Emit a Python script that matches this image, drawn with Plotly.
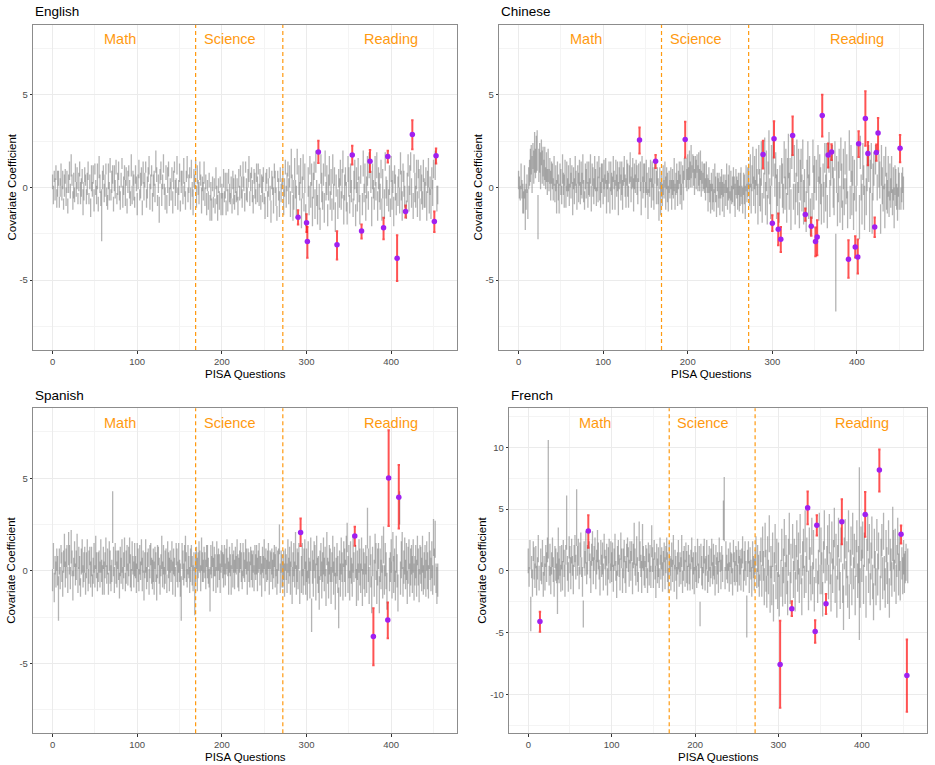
import plotly.graph_objects as go

W, H = 935, 765

# ---------------- DATA (values in tenths) ----------------
# English: gray intervals, centre and half-width, questions 0..455
eng_c = [
3,-4,6,-1,8,-6,2,5,-8,0,7,-3,4,-9,1,6,-5,3,-10,2,
9,-2,12,4,-7,1,-4,8,-1,5,-6,3,10,-3,0,6,-8,-2,7,4,
-5,2,9,-6,3,-11,5,-1,7,-7,10,0,-4,6,-9,11,2,-6,-15,4,
8,-3,1,10,-5,-8,6,-2,12,-4,3,7,-9,5,-1,11,-6,2,9,-3,
-7,4,13,-5,1,8,-3,6,-10,3,9,-1,-6,12,-4,5,0,-8,7,2,
-9,3,10,-4,1,6,-11,8,-2,4,11,-6,0,7,12,-5,3,9,-8,1,
5,-3,14,7,-7,2,-12,6,9,-4,3,13,-1,-6,8,-9,4,10,-5,2,
-2,7,-8,4,11,-3,1,12,-6,0,8,-10,3,5,-4,9,-1,-7,6,11,
-4,2,8,-6,10,-1,-8,5,3,12,-5,7,0,-3,9,4,-7,2,-2,8,
-5,3,-9,1,-7,4,-11,-2,-12,2,-8,0,-10,5,-4,-11,1,-7,3,-9,
-2,-9,5,-5,1,-11,3,-7,6,-3,-6,0,-10,4,-2,-8,2,-5,-1,-10,
5,-3,9,0,-6,7,2,-8,11,-1,-4,5,10,-6,3,8,-2,-9,6,1,
-5,8,-1,10,-4,5,-8,2,-1,7,-6,-11,3,6,-9,0,8,-3,-13,4,
1,-7,9,3,-5,-14,6,-1,-9,7,-3,2,5,-8,0,11,-5,3,10,-2,
6,-9,13,2,-11,-4,10,-1,-7,14,-12,4,-2,9,-14,0,11,-8,5,-15,
-10,-15,3,-7,12,-4,7,-13,1,9,-9,14,-3,-12,5,-5,-17,10,0,-7,
7,-11,13,-2,4,-15,0,9,-7,3,-12,10,-5,6,-16,1,12,-9,5,-3,
8,-7,2,14,-12,0,6,-5,-14,10,3,-9,5,-2,12,-11,1,7,-15,4,
-5,10,-1,-12,7,2,-9,13,-3,5,-11,0,9,-7,12,-4,3,-13,6,-1,
-6,9,-2,12,-10,5,0,-5,10,-12,2,7,-9,14,0,-3,8,-7,4,-11,
10,-4,3,-13,7,0,-9,12,-2,5,-7,13,1,-10,8,2,-5,6,-12,0,
12,-6,4,14,-3,8,-10,13,0,-5,7,-9,10,2,-12,5,-1,-7,9,-3,
-4,6,-10,3,8,-7,1,-9,5,-3,10,-11,12,1,-6,-4]
eng_w = [
4,5,3,6,4,5,7,4,3,5,6,4,5,3,6,4,5,6,4,5,
5,4,6,3,5,7,4,5,4,6,3,5,4,6,5,4,7,5,4,3,
4,6,5,3,4,5,7,4,5,6,3,4,5,7,4,6,5,4,14,5,
4,5,6,3,5,4,7,5,4,3,6,5,4,7,5,4,3,6,5,4,
5,4,3,6,5,4,7,5,4,6,3,5,4,6,5,4,7,3,5,4,
6,4,5,3,7,5,4,6,5,4,3,5,6,4,5,7,4,3,5,6,
4,5,6,4,3,5,7,4,5,6,4,5,3,6,4,5,7,4,5,3,
5,4,6,5,3,7,4,5,6,4,5,3,6,4,5,7,4,5,3,6,
4,5,3,6,5,4,7,5,4,3,6,5,4,6,5,3,7,4,5,6,
5,4,6,3,5,4,7,5,6,4,3,5,4,6,5,7,4,5,3,6,
4,6,5,3,7,4,5,6,4,5,3,6,4,5,7,4,5,3,6,5,
5,4,3,6,5,7,4,5,3,6,4,5,7,4,5,3,6,5,4,7,
4,5,7,3,6,5,4,5,7,4,3,6,5,4,7,5,3,4,6,5,
5,7,4,6,5,4,3,6,7,4,5,3,6,7,5,4,6,5,4,7,
6,7,8,5,7,8,6,5,8,7,6,8,5,7,8,6,7,5,8,6,
7,6,8,8,5,7,6,8,7,5,8,6,7,8,5,7,6,8,8,5,
6,8,7,5,8,6,7,8,5,7,6,8,7,5,8,6,7,8,5,8,
7,5,8,6,8,7,5,8,6,7,8,5,8,6,7,5,8,8,6,7,
8,6,7,8,5,8,6,7,5,8,7,6,8,5,7,8,6,8,7,5,
6,8,5,7,8,6,8,7,5,6,8,7,8,5,6,7,8,6,8,5,
7,8,6,8,5,7,6,8,8,5,7,6,8,8,5,7,6,8,5,8,
6,7,8,5,8,6,7,5,8,6,8,7,5,8,6,7,8,5,6,8,
7,5,8,6,8,7,5,8,6,7,5,8,8,6,7,5]
# English significant questions: question, estimate, lower, upper
eng_hq = [290, 300, 301, 314, 336, 354, 365, 375, 391, 396, 407, 417, 425, 451, 453]
eng_he = [-1.61, -1.91, -2.92, 1.92, -3.10, 1.75, -2.35, 1.42, -2.18, 1.67, -3.82, -1.30, 2.86, -1.84, 1.71]
eng_hl = [-2.00, -2.40, -3.80, 1.33, -3.89, 1.24, -2.76, 0.84, -2.79, 1.35, -5.05, -1.62, 2.07, -2.40, 1.30]
eng_hh = [-1.23, -1.44, -2.13, 2.52, -2.36, 2.25, -2.00, 2.02, -1.64, 1.98, -2.58, -0.97, 3.64, -1.30, 2.11]

# Chinese
chi_c = [
4,0,-3,6,-1,-6,-8,3,-12,-5,2,-9,5,8,12,15,7,17,11,19,
13,18,20,-16,12,16,9,19,11,14,8,13,5,11,3,12,4,9,1,8,
6,-1,9,-3,5,-5,8,0,-6,7,3,-4,10,2,-2,8,-5,6,0,5,
-4,8,1,7,-6,5,-2,9,3,-5,7,0,8,-3,5,1,10,-2,-7,6,
2,8,-4,5,0,10,-6,7,3,-2,8,4,-5,6,-1,11,2,-4,5,8,
-2,7,1,9,-5,4,0,8,-7,6,2,-3,10,4,-4,8,1,6,-6,5,
8,0,5,-4,6,10,1,-3,8,4,-5,7,11,-1,5,8,-4,6,2,9,
4,-2,8,1,6,-6,10,0,5,8,-4,6,2,-9,4,0,9,-3,7,2,
-5,8,4,0,6,-2,-10,5,-6,2,-4,4,-1,7,-3,5,0,-6,3,-1,
5,-4,3,-1,7,-5,2,5,-3,4,8,-1,5,-5,7,1,10,3,8,4,
11,5,12,7,14,6,13,9,3,11,7,13,5,10,4,12,2,8,3,6,
5,-1,7,2,-4,4,-2,-6,3,-5,1,-7,5,-1,-10,3,-3,1,-6,0,
3,-5,1,-7,2,-3,5,-6,0,3,-8,1,-4,-1,5,-2,-7,3,0,-4,
2,-6,-1,3,-4,-7,2,-1,-8,5,-3,3,6,-4,9,-6,5,12,-2,8,
-5,11,3,-9,15,0,-4,13,-11,6,1,17,-6,9,-12,4,19,-2,-8,12,
-3,16,-9,4,12,-5,0,18,-8,3,-13,9,1,-6,15,-3,10,-11,6,17,
-2,8,-12,19,3,-5,13,-9,0,16,-6,9,-15,4,12,-3,18,-8,1,11,
-13,6,15,-5,9,-16,3,-10,17,0,7,-12,4,-17,13,-6,10,1,-9,20,
4,-8,16,-3,12,-13,1,19,-6,9,-11,14,0,-5,17,-46,7,-12,3,13,
-9,18,1,-15,10,-5,16,-2,6,-12,3,20,-8,13,-3,9,-13,4,17,-6,
12,-3,7,-16,19,0,-9,14,4,-11,18,-5,9,-2,13,-12,6,17,-14,3,
10,-8,15,-3,0,-13,9,4,-17,12,1,-6,8,-10,14,-2,-5,6,-9,3,
-3,7,-8,2,-11,4,0,-5,-9,3,-2,6,-6,0,4,-3]
chi_w = [
5,6,4,7,5,8,6,9,11,7,5,8,6,7,9,8,10,7,9,11,
8,10,11,12,9,8,10,7,9,8,7,9,6,8,7,9,6,7,8,6,
7,6,8,5,7,9,6,7,8,6,7,5,8,6,9,7,6,8,5,7,
6,8,7,5,9,6,7,8,6,7,5,8,7,6,9,7,8,6,5,7,
8,6,7,9,5,8,7,6,8,7,9,6,5,8,7,6,9,7,8,5,
7,8,6,7,9,5,8,6,7,8,6,9,7,5,8,7,6,8,9,6,
6,7,9,8,5,7,6,8,7,9,6,5,8,7,6,8,9,7,5,6,
8,7,5,6,8,9,7,6,8,5,7,9,6,8,7,5,6,8,7,9,
7,6,8,9,5,7,8,6,9,7,6,8,5,7,9,6,8,7,6,5,
6,8,7,5,9,7,6,8,7,5,6,8,9,7,5,8,6,7,8,6,
7,6,8,7,9,6,5,8,7,6,8,5,7,9,6,8,7,6,5,7,
8,6,7,5,9,7,6,8,5,7,9,6,8,7,6,5,8,7,9,6,
7,8,6,9,5,7,8,6,7,9,6,8,5,7,6,8,9,7,6,8,
6,7,9,8,5,7,6,8,9,7,5,8,7,6,9,8,7,10,8,9,
9,10,7,11,8,10,9,12,8,11,7,10,9,11,8,10,12,7,9,11,
8,10,11,9,7,12,10,8,11,9,10,7,12,8,10,9,11,8,10,12,
10,8,11,9,12,7,10,11,8,10,9,12,7,11,9,10,8,12,9,10,
11,9,10,12,8,10,11,7,9,12,10,8,11,9,10,12,8,10,11,9,
9,11,8,10,12,9,7,11,10,8,12,9,11,10,8,21,10,9,11,8,
10,9,12,8,11,10,9,7,12,10,8,11,9,10,12,8,10,11,9,7,
11,8,10,12,9,7,11,10,8,12,9,10,11,8,10,12,9,7,11,10,
9,10,8,11,7,12,9,10,8,11,10,7,9,12,8,10,9,11,7,10,
8,10,7,9,11,8,10,7,9,8,10,7,6,8,7,9]
chi_hq = [143, 162, 197, 289, 300, 302, 307, 310, 324, 339, 346, 351, 353, 359, 366, 370,
          390, 398, 401, 402, 410, 413, 421, 423, 425, 451]
chi_he = [2.56, 1.42, 2.59, 1.78, -1.93, 2.63, -2.25, -2.79, 2.81, -1.46, -2.09, -2.92, -2.67, 3.89, 1.76, 1.92,
          -3.87, -3.21, -3.75, 2.36, 3.73, 1.84, -2.13, 1.89, 2.94, 2.12]
chi_hl = [1.84, 1.06, 1.62, 1.03, -2.35, 1.62, -3.12, -3.48, 1.75, -1.80, -2.61, -3.71, -3.66, 2.76, 1.08, 1.48,
          -4.88, -3.78, -4.65, 1.65, 2.25, 1.20, -2.67, 1.44, 1.98, 1.37]
chi_hh = [3.24, 1.75, 3.55, 2.52, -1.50, 3.58, -1.41, -2.13, 3.84, -1.14, -1.62, -2.16, -1.77, 5.01, 2.38, 2.34,
          -2.85, -2.63, -2.81, 3.04, 5.20, 2.46, -1.62, 2.32, 3.75, 2.83]

# Spanish
spa_c = [
-5,8,-9,3,-2,6,0,-15,5,-4,9,2,-7,5,11,-2,4,8,-5,12,
6,-4,13,4,-8,2,9,-2,3,11,-5,7,0,-9,5,8,-3,2,6,-7,
3,9,-5,2,8,-2,5,-8,0,7,-3,10,3,-6,2,5,-2,8,0,-5,
7,-4,3,10,-2,5,-7,8,2,-4,0,29,5,-5,9,2,-2,6,3,-8,
5,0,8,-4,3,10,-6,2,7,-2,5,11,0,-5,8,3,-2,6,2,-4,
8,3,-5,6,0,10,-2,5,-8,3,8,-4,2,7,-6,5,9,0,-2,3,
-4,7,2,-9,5,8,0,-5,3,10,-2,6,-4,2,5,-7,8,3,-2,5,
0,8,-4,5,2,-6,9,3,-2,7,0,-5,-15,8,3,-2,5,12,2,-4,
6,2,-5,3,8,0,-4,5,-11,2,7,-2,3,8,5,-4,9,2,0,6,
3,-2,8,5,0,-4,-10,6,2,9,-2,5,3,-5,8,0,6,2,-4,5,
8,3,0,6,-2,5,9,2,-4,6,3,-5,8,0,5,-2,6,3,9,0,
-2,5,8,2,-5,6,3,0,9,5,-4,6,2,-2,8,3,0,5,-4,6,
2,6,-2,5,8,0,3,-5,6,2,9,-2,5,0,3,8,-4,6,2,5,
-2,3,8,0,5,-6,2,6,17,-4,5,0,-2,3,-5,6,2,-4,8,0,
5,-4,9,-8,2,6,-2,11,-5,3,0,8,-9,5,-2,6,-6,2,9,-4,
3,-8,6,0,-5,9,-24,2,-4,8,5,-6,11,0,-2,-12,3,6,-5,2,
8,-2,5,-9,12,0,-5,6,3,-8,2,9,-4,5,-11,0,6,-2,-20,3,
-5,8,2,-6,9,3,-4,11,18,-2,5,-8,6,0,-5,9,2,-4,5,-9,
3,-6,8,2,-4,9,-9,5,0,-5,6,-2,23,3,-8,11,0,-13,5,8,
-4,12,5,-9,2,8,-13,3,-2,9,-6,14,-5,6,0,-11,5,-3,-2,2,
8,-5,13,-2,3,-8,9,0,-12,5,34,-4,6,11,-6,2,8,-2,5,-9,
3,9,-5,2,6,-2,8,-6,0,5,-4,11,2,-8,6,3,-2,9,-5,0,
5,-4,8,0,-6,11,3,-2,6,-5,18,2,17,-4,-8,-5]
spa_w = [
6,7,8,5,7,6,8,12,7,6,5,8,7,6,9,7,8,6,7,9,
8,6,9,7,8,5,7,6,8,9,7,6,8,5,7,9,6,8,7,6,
7,8,6,9,5,7,8,6,7,8,6,9,7,5,8,6,7,9,6,8,
6,9,7,8,5,7,6,8,9,7,6,14,8,7,6,9,7,5,8,7,
8,7,9,6,7,8,5,9,7,6,8,7,9,6,8,5,7,9,6,8,
7,9,6,8,5,7,9,6,8,7,9,6,8,5,7,9,6,7,8,9,
9,6,8,7,9,5,7,8,6,9,7,8,6,9,7,5,8,7,9,6,
6,8,9,7,5,8,6,9,7,8,6,9,12,7,8,6,9,7,8,5,
8,6,7,9,6,8,7,5,13,8,6,9,7,8,6,7,9,8,6,7,
7,8,6,9,7,5,12,8,6,7,9,8,6,7,8,9,6,7,8,6,
6,7,9,8,6,7,8,5,9,7,6,8,7,9,6,8,7,5,8,9,
9,6,7,8,5,9,7,6,8,7,9,6,8,7,5,8,9,6,7,8,
7,8,9,6,7,8,5,9,7,6,8,9,7,6,8,7,9,5,8,7,
8,7,6,9,8,7,9,6,8,8,6,9,7,8,9,6,7,8,9,7,
8,9,7,10,8,9,7,10,8,9,10,7,9,8,10,9,7,10,8,9,
9,8,10,7,10,9,9,9,10,8,9,10,8,7,10,9,8,9,10,8,
10,9,8,10,9,7,10,8,9,10,8,10,9,8,10,7,9,10,11,8,
9,10,8,10,7,9,10,8,8,10,9,8,10,7,9,10,8,10,9,10,
8,10,9,10,8,9,10,7,10,9,8,10,11,9,10,8,9,10,8,10,
10,8,10,9,10,7,10,9,8,10,9,10,8,9,10,10,8,11,9,8,
9,10,8,10,9,8,10,9,10,8,9,9,10,10,8,9,10,8,10,9,
10,8,9,10,8,10,9,10,8,9,10,8,10,9,8,10,9,10,8,10,
9,10,8,10,9,10,8,9,10,8,10,10,10,8,10,9]
spa_hq = [293, 357, 379, 396, 397, 409]
spa_he = [2.07, 1.88, -3.55, -2.66, 5.01, 3.98]
spa_hl = [1.34, 1.35, -5.10, -3.64, 2.42, 2.29]
spa_hh = [2.83, 2.38, -2.03, -1.71, 7.60, 5.71]

# French
fre_c = [
8,-5,13,-35,3,-10,16,6,-4,11,-8,2,18,-6,0,5,-2,14,-11,4,
-5,12,3,17,58,-4,9,-8,6,15,1,-10,11,5,-2,-10,14,0,8,-6,
11,-4,16,6,-8,13,39,2,-5,19,9,-2,16,4,-7,12,18,3,43,8,
15,-6,10,21,3,-9,-35,13,6,19,-2,9,0,16,4,-5,13,20,0,10,
18,-3,7,20,12,1,-8,15,4,10,-5,20,9,0,13,-9,6,16,-2,12,
3,13,-6,9,17,0,-11,8,15,4,-3,20,10,-8,6,16,1,-5,12,19,
9,-2,15,4,16,-6,12,22,7,-3,16,1,-9,24,13,4,-5,20,10,0,
-3,12,6,-8,15,1,10,-5,24,9,-2,17,4,-9,13,0,7,-6,16,3,
10,-5,6,15,-2,9,18,3,-8,12,4,-3,13,0,17,-6,9,2,-10,6,
13,-3,7,0,16,-9,4,10,-2,15,3,-6,12,1,-5,9,17,-2,6,-8,
10,3,-5,15,-2,7,-35,12,0,-6,9,16,-3,4,13,-9,2,10,-5,6,
15,-2,9,3,-8,13,0,6,-5,17,7,-3,10,2,41,50,-6,12,3,-2,
9,-5,13,2,6,-9,16,3,-2,12,4,-6,15,0,7,-3,10,17,-8,4,
12,-2,-37,6,15,-5,9,1,-9,13,3,-3,7,16,-6,10,0,-12,4,17,
-8,20,4,-13,25,0,-17,12,-5,30,-15,7,-12,17,-26,3,22,-9,13,-16,
9,-20,0,-6,21,-13,4,27,-10,16,-3,-22,11,30,-14,6,0,24,-7,13,
-17,7,26,-4,14,-12,30,1,-21,10,18,-9,32,-3,13,0,-16,22,4,-10,
28,-6,17,-19,6,0,25,-13,3,31,-7,20,-2,-23,11,33,0,-14,6,21,
-9,30,2,-18,23,-4,13,35,-11,17,-21,7,27,-3,-16,21,0,-10,-30,14,
26,-6,9,-17,32,-25,3,20,-13,30,-2,16,-20,10,28,-8,5,14,-14,22,
4,25,-11,17,0,-21,13,31,-4,22,-15,8,27,-9,-25,18,2,-13,29,-3,
16,0,-18,10,25,-6,32,-2,-14,20,4,-10,27,-22,13,3,-7,30,17,-4,
20,-11,8,28,-3,14,-8,0,6,-4,11,-2,3,7,0,4]
fre_w = [
10,8,12,14,9,11,8,13,10,9,12,9,11,10,9,13,9,11,10,8,
11,9,12,10,48,8,13,11,9,12,10,11,9,13,8,25,21,10,12,11,
10,12,9,11,13,8,22,10,12,9,11,13,10,8,12,9,11,10,23,12,
11,9,13,10,8,12,11,11,10,13,9,12,11,8,10,13,9,12,11,10,
9,12,10,13,11,8,12,10,9,13,11,10,8,12,9,11,13,10,8,12,
12,10,11,9,13,8,11,12,10,9,13,11,8,10,12,9,11,13,10,8,
10,11,9,12,8,13,10,17,11,9,12,10,8,16,11,9,13,18,10,12,
11,9,12,10,8,13,11,9,13,10,12,8,11,13,9,10,12,8,11,10,
9,12,10,8,13,11,9,12,10,11,8,13,10,9,12,11,8,10,13,9,
12,10,8,11,13,9,12,10,11,8,13,10,9,12,11,8,10,13,9,11,
10,12,9,11,8,13,10,10,12,9,11,10,13,8,12,9,11,10,8,12,
11,9,13,10,12,8,11,9,13,10,8,12,10,11,16,26,9,12,10,8,
9,12,10,13,8,11,9,12,10,8,13,11,9,12,10,13,8,11,9,12,
12,10,17,11,9,13,10,8,12,11,9,13,10,12,8,11,13,9,12,10,
13,16,12,15,14,17,13,16,14,15,19,13,16,14,15,12,16,14,13,15,
14,17,10,15,13,16,14,15,17,13,16,14,15,17,13,16,10,14,15,13,
16,14,15,13,17,14,16,12,15,14,16,13,17,15,14,10,16,13,15,14,
15,13,16,14,17,10,15,13,14,16,12,15,17,14,13,16,10,15,14,16,
14,16,13,15,17,14,12,16,15,13,17,14,16,13,15,14,10,16,18,13,
16,14,15,13,17,14,14,16,15,17,13,14,16,15,13,14,15,70,16,14,
13,15,16,14,10,17,13,15,14,16,13,15,17,14,15,16,14,15,13,17,
15,10,14,16,13,17,15,14,16,13,15,17,14,16,13,15,14,22,16,13,
14,16,13,15,17,14,16,10,13,15,14,16,13,15,10,14]
fre_hq = [14, 72, 302, 316, 335, 344, 346, 357, 376, 404, 421, 447, 454]
fre_he = [-4.10, 3.22, -7.59, -3.08, 5.10, -4.91, 3.70, -2.67, 3.97, 4.57, 8.16, 2.97, -8.48]
fre_hl = [-4.94, 1.86, -11.10, -3.67, 3.78, -5.83, 2.87, -3.51, 2.16, 2.76, 6.43, 2.22, -11.43]
fre_hh = [-3.32, 4.51, -4.05, -2.46, 6.43, -4.00, 4.51, -1.89, 5.79, 6.38, 9.84, 3.68, -5.56]

section_names = ["Math", "Science", "Reading"]
section_label_x = [80, 210, 400]
section_breaks = [169, 272]
x_ticks = [0, 100, 200, 300, 400]
x_minor = [50, 150, 250, 350, 450]

# ---------------- LAYOUT GEOMETRY (pixels) ----------------
def px_x(v):
    return v / W

def px_y(v):
    return 1 - v / H

panels = [
    dict(name="English", c=eng_c, w=eng_w, hq=eng_hq, he=eng_he, hl=eng_hl, hh=eng_hh,
         xd=(33.3, 457.0), yd=(25.0, 350.0), yr=8.78, yt=[-5, 0, 5], ym=[-7.5, -2.5, 2.5, 7.5],
         lab_y=8, ytitle_x=11, xtitle_y=373.5),
    dict(name="Chinese", c=chi_c, w=chi_w, hq=chi_hq, he=chi_he, hl=chi_hl, hh=chi_hh,
         xd=(499.3, 922.7), yd=(25.0, 350.0), yr=8.78, yt=[-5, 0, 5], ym=[-7.5, -2.5, 2.5, 7.5],
         lab_y=8, ytitle_x=477, xtitle_y=373.5),
    dict(name="Spanish", c=spa_c, w=spa_w, hq=spa_hq, he=spa_he, hl=spa_hl, hh=spa_hh,
         xd=(33.3, 457.0), yd=(408.3, 733.3), yr=8.78, yt=[-5, 0, 5], ym=[-7.5, -2.5, 2.5, 7.5],
         lab_y=8, ytitle_x=11, xtitle_y=756.5),
    dict(name="French", c=fre_c, w=fre_w, hq=fre_hq, he=fre_he, hl=fre_hl, hh=fre_hh,
         xd=(509.3, 926.7), yd=(408.3, 733.3), yr=13.17, yt=[-10, -5, 0, 5, 10],
         ym=[-12.5, -7.5, -2.5, 2.5, 7.5, 12.5], lab_y=12, ytitle_x=482, xtitle_y=756.5),
]

FONT = "Liberation Sans, Arial, Helvetica, sans-serif"
ORANGE = "#FF9A10"
GRAY_BAR = "rgba(130,130,130,0.6)"
RED_BAR = "rgba(255,0,0,0.68)"
PURPLE = "#A020F0"

fig = go.Figure()
shapes = []
annotations = []
layout_axes = {}

for i, p in enumerate(panels):
    sfx = "" if i == 0 else str(i + 1)
    xa, ya = "x" + sfx, "y" + sfx
    n = min(len(p["c"]), len(p["w"]))
    hset = set(p["hq"])
    qs = [q for q in range(n) if q not in hset]
    fig.add_trace(go.Scatter(
        x=qs, y=[p["c"][q] / 10 for q in qs], mode="markers",
        marker=dict(size=2, opacity=0, color="gray"),
        error_y=dict(type="data", array=[p["w"][q] / 10 for q in qs], symmetric=True,
                     color=GRAY_BAR, thickness=1.3, width=0),
        xaxis=xa, yaxis=ya, showlegend=False, hoverinfo="skip"))
    fig.add_trace(go.Scatter(
        x=p["hq"], y=p["he"], mode="markers",
        marker=dict(size=5.5, color=PURPLE, line=dict(width=0)),
        error_y=dict(type="data", symmetric=False,
                     array=[h - e for h, e in zip(p["hh"], p["he"])],
                     arrayminus=[e - l for e, l in zip(p["he"], p["hl"])],
                     color=RED_BAR, thickness=2, width=1.2),
        xaxis=xa, yaxis=ya, showlegend=False, hoverinfo="skip"))

    key = "" if i == 0 else str(i + 1)
    layout_axes["xaxis" + key] = dict(
        domain=[px_x(p["xd"][0]), px_x(p["xd"][1])], anchor=ya,
        range=[-22.75, 477.75], tickvals=x_ticks, ticktext=[str(t) for t in x_ticks],
        ticks="outside", ticklen=2.5, tickwidth=0.8, tickcolor="#333333",
        tickfont=dict(family=FONT, size=9.5, color="#4D4D4D"),
        showgrid=True, gridcolor="#EBEBEB", gridwidth=1,
        minor=dict(tickvals=x_minor, showgrid=True, gridcolor="#F4F4F4", gridwidth=0.6, ticks=""),
        showline=True, linecolor="#8C8C8C", linewidth=1, mirror=True, zeroline=False,
        fixedrange=True)
    layout_axes["yaxis" + key] = dict(
        domain=[px_y(p["yd"][1]), px_y(p["yd"][0])], anchor=xa,
        range=[-p["yr"], p["yr"]], tickvals=p["yt"], ticktext=[str(t) for t in p["yt"]],
        ticks="outside", ticklen=2.5, tickwidth=0.8, tickcolor="#333333",
        tickfont=dict(family=FONT, size=9.5, color="#4D4D4D"),
        showgrid=True, gridcolor="#EBEBEB", gridwidth=1,
        minor=dict(tickvals=p["ym"], showgrid=True, gridcolor="#F4F4F4", gridwidth=0.6, ticks=""),
        showline=True, linecolor="#8C8C8C", linewidth=1, mirror=True, zeroline=False,
        fixedrange=True)

    for b in section_breaks:
        shapes.append(dict(type="line", xref=xa, yref=ya + " domain", x0=b, x1=b, y0=0, y1=1,
                           line=dict(color=ORANGE, width=1.2, dash="4px,3px"), layer="above"))
    for name, lx in zip(section_names, section_label_x):
        annotations.append(dict(x=lx, y=p["lab_y"], xref=xa, yref=ya, text=name, showarrow=False,
                                font=dict(family=FONT, size=14.5, color=ORANGE),
                                xanchor="center", yanchor="middle"))
    # panel title
    annotations.append(dict(x=px_x(p["xd"][0]), y=px_y(p["yd"][0] - 13), xref="paper", yref="paper",
                            text=p["name"], showarrow=False, xanchor="left", yanchor="middle",
                            font=dict(family=FONT, size=13.5, color="black")))
    # axis titles
    annotations.append(dict(x=px_x((p["xd"][0] + p["xd"][1]) / 2), y=px_y(p["xtitle_y"]),
                            xref="paper", yref="paper", text="PISA Questions", showarrow=False,
                            xanchor="center", yanchor="middle",
                            font=dict(family=FONT, size=11.5, color="black")))
    annotations.append(dict(x=px_x(p["ytitle_x"]), y=px_y((p["yd"][0] + p["yd"][1]) / 2),
                            xref="paper", yref="paper", text="Covariate Coefficient", showarrow=False,
                            textangle=-90, xanchor="center", yanchor="middle",
                            font=dict(family=FONT, size=11.5, color="black")))

fig.update_layout(
    width=W, height=H, margin=dict(l=0, r=0, t=0, b=0),
    paper_bgcolor="white", plot_bgcolor="white", showlegend=False,
    shapes=shapes, annotations=annotations, **layout_axes)

fig.write_html("out.html")
